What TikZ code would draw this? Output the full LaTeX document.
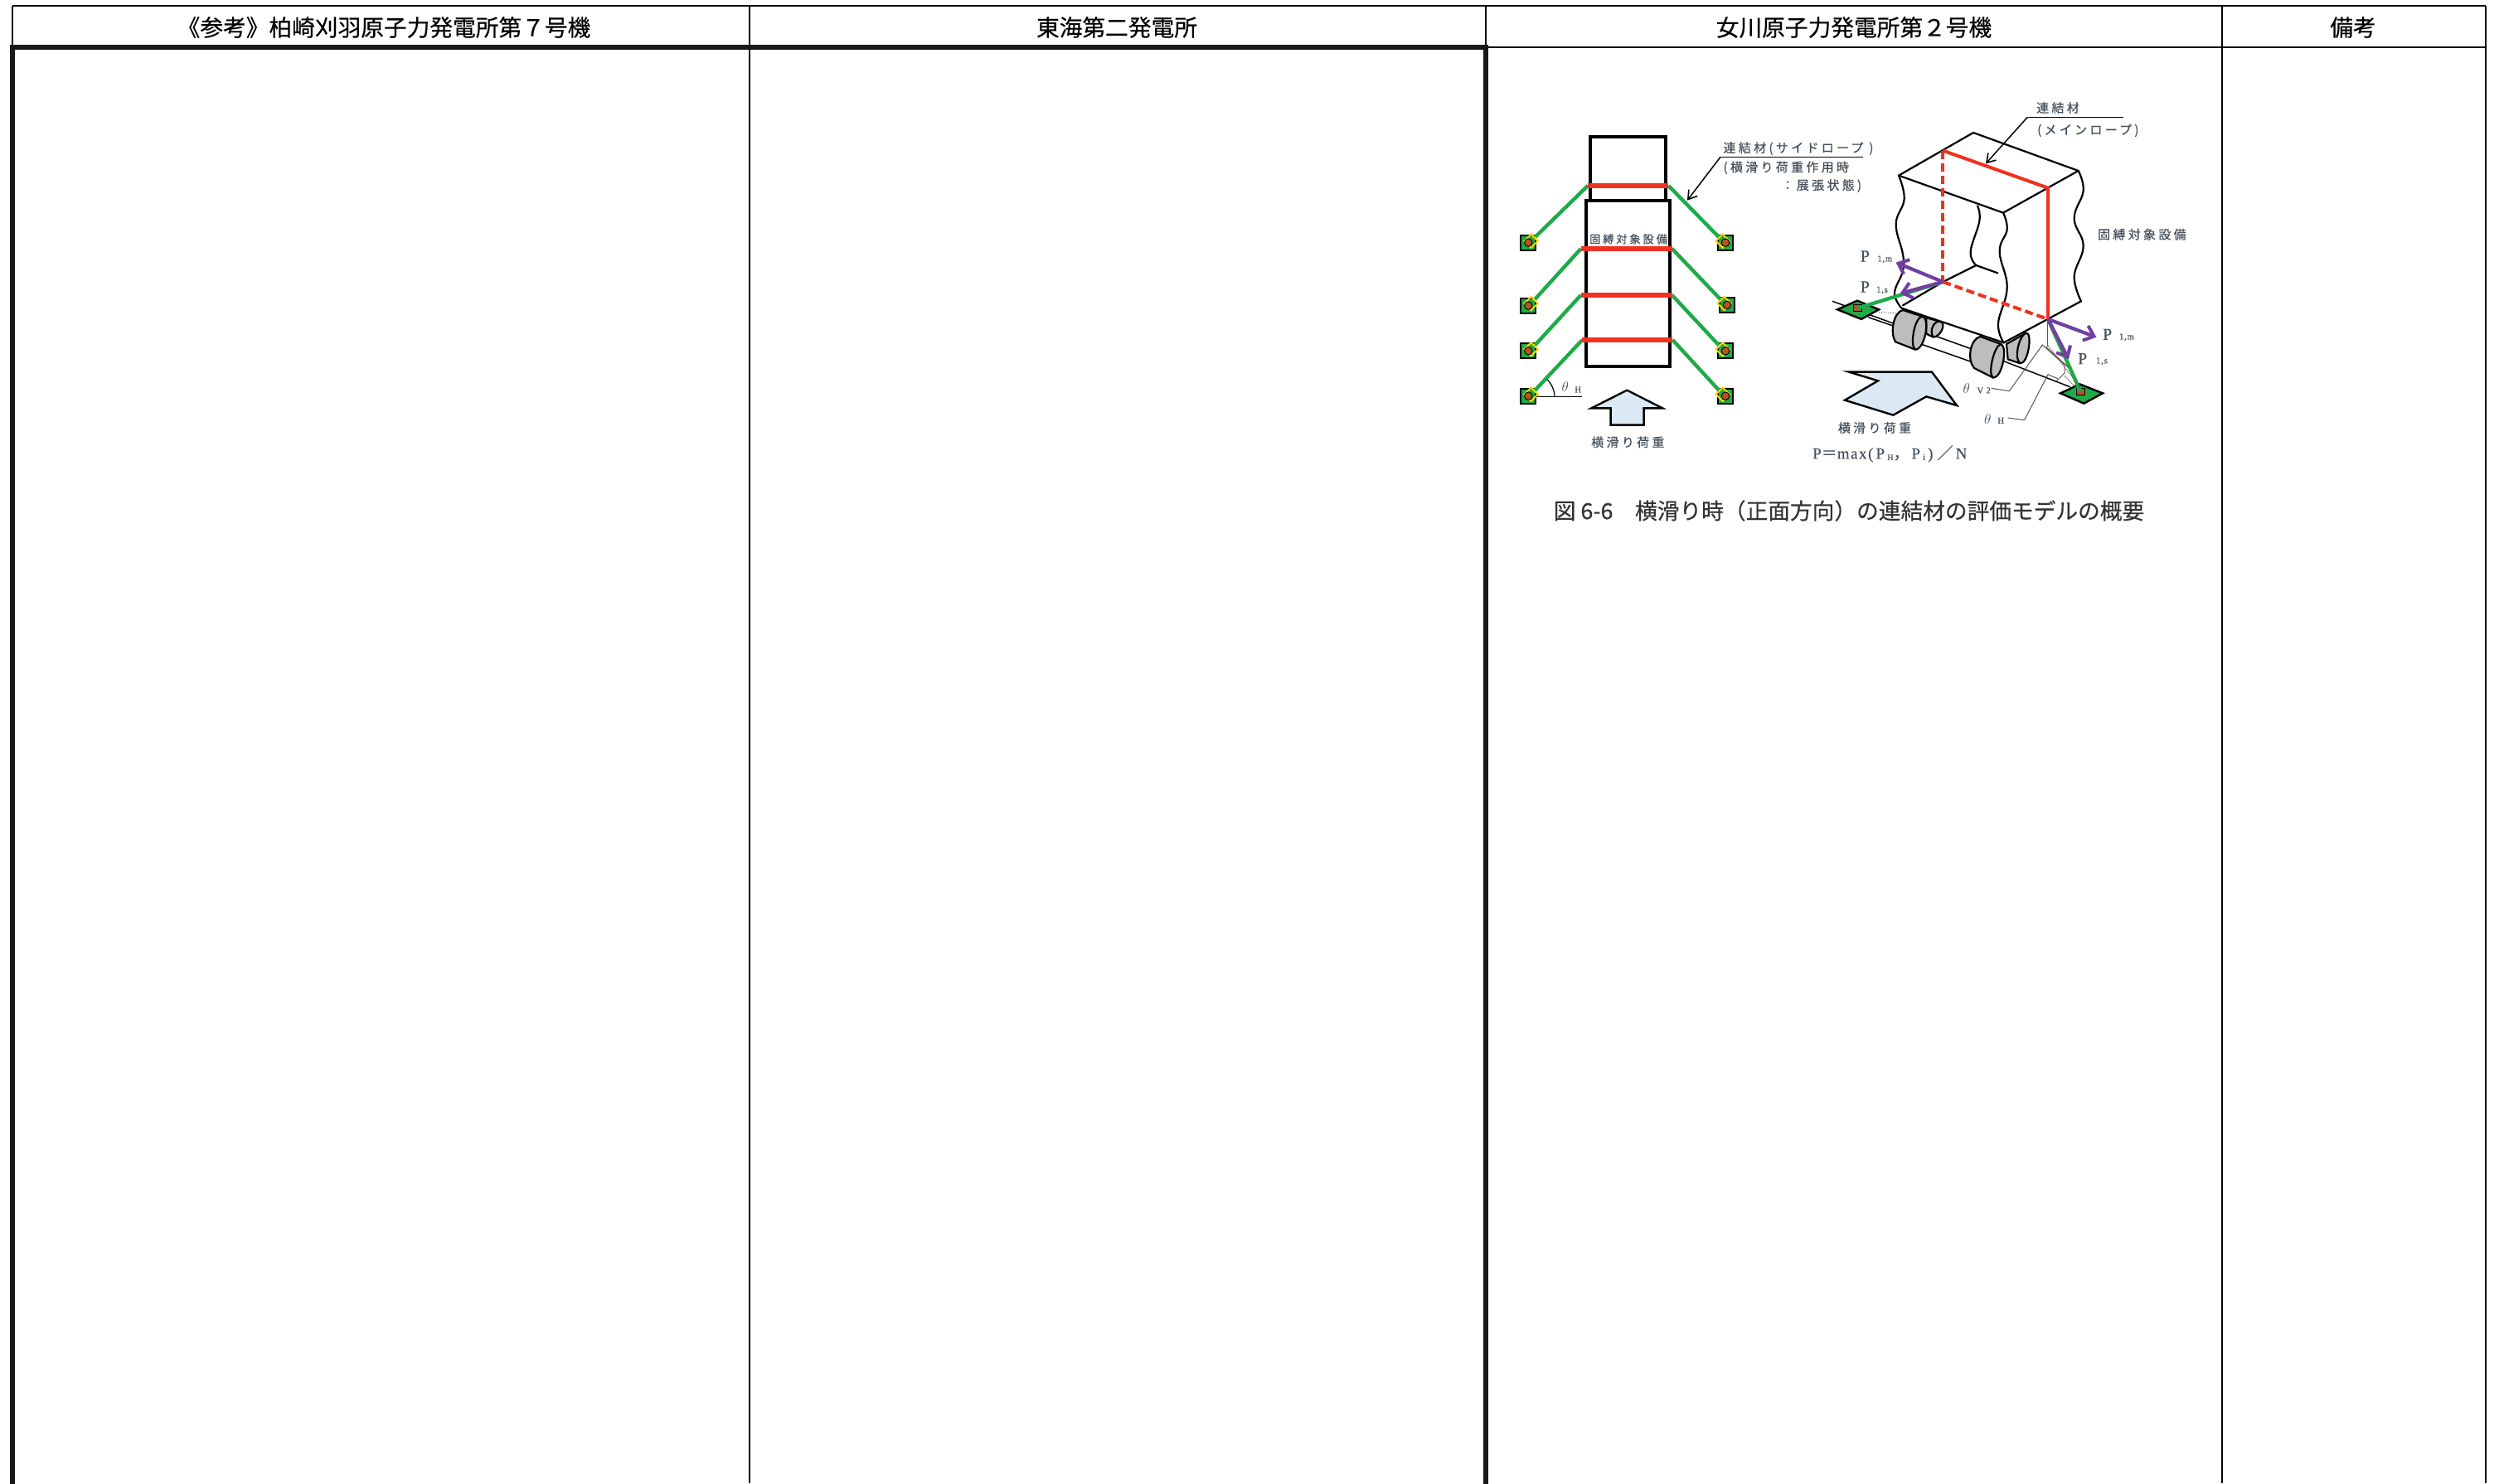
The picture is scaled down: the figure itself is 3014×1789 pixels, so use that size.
\documentclass[tikz,border=0pt]{standalone}
\usepackage{fontspec}
\setmainfont[FakeBold=0.35]{Noto Sans CJK JP}
\newfontfamily\figjp[LetterSpace=22,FakeBold=0.5]{Noto Sans CJK JP}
\newfontfamily\capjp[FakeBold=0.35]{Noto Sans CJK JP}
\newfontfamily\figser[LetterSpace=8,FakeBold=0.3]{Liberation Serif}
\usetikzlibrary{arrows.meta}
\definecolor{figtext}{HTML}{46505A}
\definecolor{rope}{HTML}{F03020}
\definecolor{sling}{HTML}{1FAA48}
\definecolor{vec}{HTML}{7040A0}
\definecolor{load}{HTML}{DCE9F4}
\definecolor{wheel}{HTML}{BDBDBD}
\definecolor{pin}{HTML}{B0561F}
\definecolor{lead}{HTML}{555555}
\newcommand{\sbs}[1]{\raisebox{-1.5pt}{\fontsize{10}{10}\selectfont #1}}
\tikzset{
  thinrule/.style={line width=1.6pt,black},
  thickrule/.style={line width=6pt,black!90,line cap=rect},
  headtext/.style={font=\fontsize{27.7}{29}\selectfont,inner sep=0pt},
  figlabel/.style={font=\figjp\fontsize{15}{16}\selectfont,text=figtext,inner sep=0pt},
  serlabel/.style={font=\figser\fontsize{20}{20}\selectfont,text=figtext,inner sep=0pt},
  sublabel/.style={font=\figser\fontsize{10.5}{10.5}\selectfont,text=figtext,inner sep=0pt},
  boxline/.style={line width=4pt,black},
  body/.style={line width=2.2pt,black,line cap=round,line join=round},
  redbar/.style={line width=6pt,rope},
  redline/.style={line width=4pt,rope},
  reddash/.style={line width=4pt,rope,dash pattern=on 10pt off 5pt},
  greenline/.style={line width=4.4pt,sling},
  leader/.style={line width=1.5pt,black,-{Straight Barb[length=10pt,width=13pt,line width=1.6pt]}},
  vecarrow/.style={line width=4.2pt,vec,-{Straight Barb[length=11pt,width=19pt,line width=4pt]}},
  loadarrow/.style={line width=2.4pt,black,fill=load,line join=miter},
  thin lead/.style={line width=1pt,lead},
  basesq/.style={draw=black,line width=2pt,fill=sling,minimum size=18pt,inner sep=0pt,rectangle},
  yellowmark/.style={draw=yellow!75!orange,line width=2pt,minimum size=11.5pt,inner sep=0pt,rectangle,rotate=45},
  pinmark/.style={draw=black,line width=.9pt,fill=pin,circle,minimum size=9.5pt,inner sep=0pt},
  wheelbody/.style={draw=black,line width=2.2pt,fill=wheel,line join=round},
  padshape/.style={draw=black,line width=2.4pt,fill=sling,line join=miter},
  pincyl/.style={draw=black,line width=.6pt,fill=pin,minimum width=10pt,minimum height=8pt,inner sep=0pt,rectangle}
}
\begin{document}
\begin{tikzpicture}[x=1pt,y=-1pt]
\useasboundingbox (0,0) rectangle (3014,1789);
\fill[white] (0,0) rectangle (3014,1789);
% table
\coordinate (t0) at (15,7); \coordinate (t1) at (904,7); \coordinate (t2) at (1792,7);
\coordinate (t3) at (2680,7); \coordinate (t4) at (2998,7);
\coordinate (h0) at (15,57); \coordinate (h1) at (904,57); \coordinate (h2) at (1792,57);
\coordinate (h3) at (2680,57); \coordinate (h4) at (2998,57);
\coordinate (b0) at (15,1789); \coordinate (b1) at (904,1789); \coordinate (b2) at (1792,1789);
\coordinate (b3) at (2680,1789); \coordinate (b4) at (2998,1789);
\draw[thinrule] (t0) -- (t4);
\draw[thinrule] (t0) -- (h0);
\draw[thinrule] (t1) -- (b1);
\draw[thinrule] (t2) -- (h2);
\draw[thinrule] (t3) -- (b3);
\draw[thinrule] (t4) -- (b4);
\draw[thinrule] (h2) -- (h4);
\draw[thickrule] (b0) -- (h0) -- (h2) -- (b2);
\node[headtext] (head1) at (463,33) {《参考》柏崎刈羽原子力発電所第７号機};
\node[headtext] (head2) at (1347,33) {東海第二発電所};
\node[headtext] (head3) at (2236,33) {女川原子力発電所第２号機};
\node[headtext] (head4) at (2838,33) {備考};
% left figure, in the coordinates of a 3x crop
\begin{scope}[x=0.33333pt,y=-0.33333pt,shift={(1800pt,-80pt)}]
\draw[boxline] (355,255) rectangle (628,485);
\draw[boxline,fill=white] (340,487) rectangle (642,1085);
\foreach \n/\x/\y in {a/130/638,b/130/866,c/130/1030,d/130/1193,e/843/638,f/849/864,g/843/1030,h/843/1193}
  \node[basesq] (sq\n) at (\x,\y) {};
\foreach \n/\x/\y in {a/140/632,b/140/858,c/140/1024,d/140/1187}
  \coordinate (ym\n) at (\x,\y);
\foreach \n/\x/\y in {e/833/632,f/839/858,g/833/1024,h/833/1187}
  \coordinate (ym\n) at (\x,\y);
\coordinate (r1l) at (345,432); \coordinate (r1r) at (637,432);
\coordinate (r2l) at (320,660); \coordinate (r2r) at (650,660);
\coordinate (r3l) at (320,828); \coordinate (r3r) at (650,828);
\coordinate (r4l) at (325,990); \coordinate (r4r) at (652,990);
\draw[greenline] (r1l) -- (yma) (r2l) -- (ymb) (r3l) -- (ymc) (r4l) -- (ymd);
\draw[greenline] (r1r) -- (yme) (r2r) -- (ymf) (r3r) -- (ymg) (r4r) -- (ymh);
\draw[redbar] (r1l) -- (r1r);
\draw[redbar] (r2l) -- (r2r);
\draw[redbar] (r3l) -- (r3r);
\draw[redbar] (r4l) -- (r4r);
\foreach \n in {a,b,c,d,e,f,g,h} {
  \node[yellowmark] (yk\n) at (ym\n) {};
  \node[pinmark] (pn\n) at (sq\n) {};
}
\node[figlabel,font=\figjp\fontsize{13.2}{14}\selectfont] (lcargo) at (492,625) {固縛対象設備};
\coordinate (sideA) at (825,328); \coordinate (sideB) at (1340,328);
\coordinate (sideT) at (705,485);
\draw[line width=1.5pt,black] (sideA) -- (sideB);
\draw[leader] (sideA) -- (sideT);
\node[figlabel,anchor=west] (side1) at (835,297) {連結材(サイドロープ\hspace{7pt})};
\node[figlabel,anchor=west] (side2) at (835,367) {(横滑り荷重作用時};
\node[figlabel,anchor=west] (side3) at (1045,432) {：展張状態)};
\coordinate (lhA) at (160,1196); \coordinate (lhB) at (325,1196);
\draw[line width=1.2pt,black] (lhA) -- (lhB);
\draw[line width=1.2pt,black] (225,1196) .. controls (225,1175) and (215,1150) .. (198,1133);
\node[serlabel,font=\fontsize{17}{17}\selectfont,text=figtext] (lth) at (263,1160) {$\theta$};
\node[sublabel] (lthh) at (310,1170) {H};
\draw[loadarrow] (487,1172) -- (615,1237) -- (548,1237) -- (548,1298) -- (428,1298) -- (428,1237) -- (358,1237) -- cycle;
\node[figlabel] (lload) at (490,1360) {横滑り荷重};
\end{scope}
% right figure
\begin{scope}[x=0.33333pt,y=-0.33333pt,shift={(2180pt,-90pt)}]
% axle
\draw[line width=1.5pt] (90,820) -- (310,900);
\draw[line width=1.5pt] (220,878) -- (312,910);
\draw[line width=1.5pt] (410,975) -- (595,1040);
\draw[line width=1.5pt] (460,945) -- (600,995);
\draw[line width=1.5pt] (705,1035) -- (950,1130);
\draw[line width=.8pt,dotted] (250,858) -- (335,865);
% rear wheels
\draw[wheelbody] (430,880) -- (480,893) .. controls (505,900) and (480,950) .. (455,950) -- (430,938) -- cycle;
\draw[wheelbody] (480,893) .. controls (455,890) and (440,930) .. (455,950);
\draw[wheelbody] (720,975) -- (790,935) .. controls (815,930) and (800,1045) .. (770,1045) -- (725,1030) -- cycle;
\draw[wheelbody] (790,935) .. controls (765,945) and (745,1030) .. (770,1045);
% body: white ground, then its outlines
\fill[white] (330,365) -- (600,210) -- (980,348) -- (990,820) -- (710,970) -- (340,845) -- cycle;
\draw[body] plot[smooth,tension=.7] coordinates {(330,365) (350,450) (320,540) (345,650) (345,710) (315,790) (340,845)};
\draw[body] plot[smooth,tension=.7] coordinates {(980,348) (998,420) (965,520) (998,620) (965,730) (990,820)};
\draw[body] (340,845) -- (710,970);
\draw[body] (710,970) -- (990,820);
\draw[body] (330,365) -- (600,210) -- (980,348) -- (708,500) -- cycle;
\draw[body] plot[smooth,tension=.7] coordinates {(708,500) (722,560) (695,640) (722,770) (690,900) (710,970)};
\draw[body] plot[smooth,tension=.7] coordinates {(615,475) (622,530) (590,640) (610,690)};
\draw[body] (345,835) -- (490,750) -- (610,690) -- (688,718);
% front wheels
\draw[wheelbody] (345,852) -- (415,875) .. controls (445,880) and (425,995) .. (390,995) -- (318,967) .. controls (298,935) and (310,860) .. (345,852) -- cycle;
\draw[wheelbody] (415,875) .. controls (385,880) and (370,985) .. (390,995);
\draw[wheelbody] (625,948) -- (700,975) .. controls (725,985) and (705,1097) .. (672,1097) -- (603,1062) .. controls (575,1030) and (590,955) .. (625,948) -- cycle;
\draw[wheelbody] (700,975) .. controls (675,980) and (650,1085) .. (672,1097);
% ropes
\coordinate (mTL) at (490,275); \coordinate (mTR) at (870,410);
\coordinate (mBL) at (490,750); \coordinate (mBR) at (870,885);
\draw[reddash] (mTL) -- (mBL);
\draw[reddash] (mBL) -- (mBR);
\draw[redline] (mTL) -- (mTR) -- (mBR);
% pads
\draw[padshape] (108,850) -- (180,818) -- (258,850) -- (195,885) -- cycle;
\draw[padshape] (915,1153) -- (985,1120) -- (1068,1153) -- (1000,1190) -- cycle;
\node[pincyl] (pinL) at (182,845) {};
\node[pincyl] (pinR) at (988,1147) {};
\draw[greenline] (pinL.center) -- (mBL);
\draw[greenline] (mBR) -- (pinR.center);
% force vectors
\coordinate (vL1) at (320,680); \coordinate (vL2) at (335,792);
\coordinate (vR1) at (1045,950); \coordinate (vR2) at (945,1030);
\draw[vecarrow] (mBL) -- (vL1);
\draw[vecarrow] (mBL) -- (vL2);
\draw[vecarrow] (mBR) -- (vR1);
\draw[vecarrow] (mBR) -- (vR2);
% callout
\coordinate (mainA) at (795,155); \coordinate (mainB) at (1142,155); \coordinate (mainT) at (645,322);
\draw[line width=1.5pt,black] (mainA) -- (mainB);
\draw[leader] (mainA) -- (mainT);
\node[figlabel] (main1) at (906,120) {連結材};
\node[figlabel] (main2) at (1015,202) {(メインロープ)};
\node[figlabel] (cargo) at (1210,578) {固縛対象設備};
% angle construction
\draw[thin lead] (868,890) -- (868,985);
\draw[thin lead] (665,1135) -- (730,1145) -- (850,978) -- (930,1050) -- (930,1080) -- (900,1110);
\draw[thin lead] (862,985) -- (945,1060);
\draw[thin lead] (725,1242) -- (785,1250) -- (870,1085) -- (905,1100);
\draw[thin lead,densely dotted] (870,980) -- (985,1130);
\draw[thin lead,densely dotted] (930,1090) -- (975,1135);
% labels
\foreach \n/\x/\y in {a/208/657,b/208/768,c/1085/940,d/995/1028}
  \node[serlabel] (P\n) at (\x,\y) {P};
\node[sublabel] (Pas) at (280,668) {1,m};
\node[sublabel] (Pbs) at (270,780) {1,s};
\node[sublabel] (Pcs) at (1155,950) {1,m};
\node[sublabel] (Pds) at (1065,1037) {1,s};
\node[serlabel,font=\fontsize{17}{17}\selectfont] (thv) at (575,1135) {$\theta$};
\node[sublabel] (thvs) at (638,1143) {V 2};
\node[serlabel,font=\fontsize{17}{17}\selectfont] (thh) at (652,1245) {$\theta$};
\node[sublabel] (thhs) at (700,1252) {H};
\draw[loadarrow] (150,1076) -- (450,1076) -- (540,1197) -- (430,1165) -- (310,1232) -- (135,1178) -- (255,1108) -- cycle;
\node[figlabel] (rload) at (243,1278) {横滑り荷重};
\node[serlabel,anchor=west,font=\figser\fontsize{19}{19}\selectfont] (formula) at (18,1372) {P{\capjp ＝}max(\,P\,\sbs{H}{\capjp ，}\hspace{3pt}P\,\sbs{i}\,)\hspace{5pt}{\capjp ／}\,N};
\end{scope}
% caption
\node[inner sep=0pt,text=black!80,font=\capjp\fontsize{26.7}{28}\selectfont] (cap) at (2230,616) {図 6-6　横滑り時（正面方向）の連結材の評価モデルの概要};
\end{tikzpicture}
\end{document}
